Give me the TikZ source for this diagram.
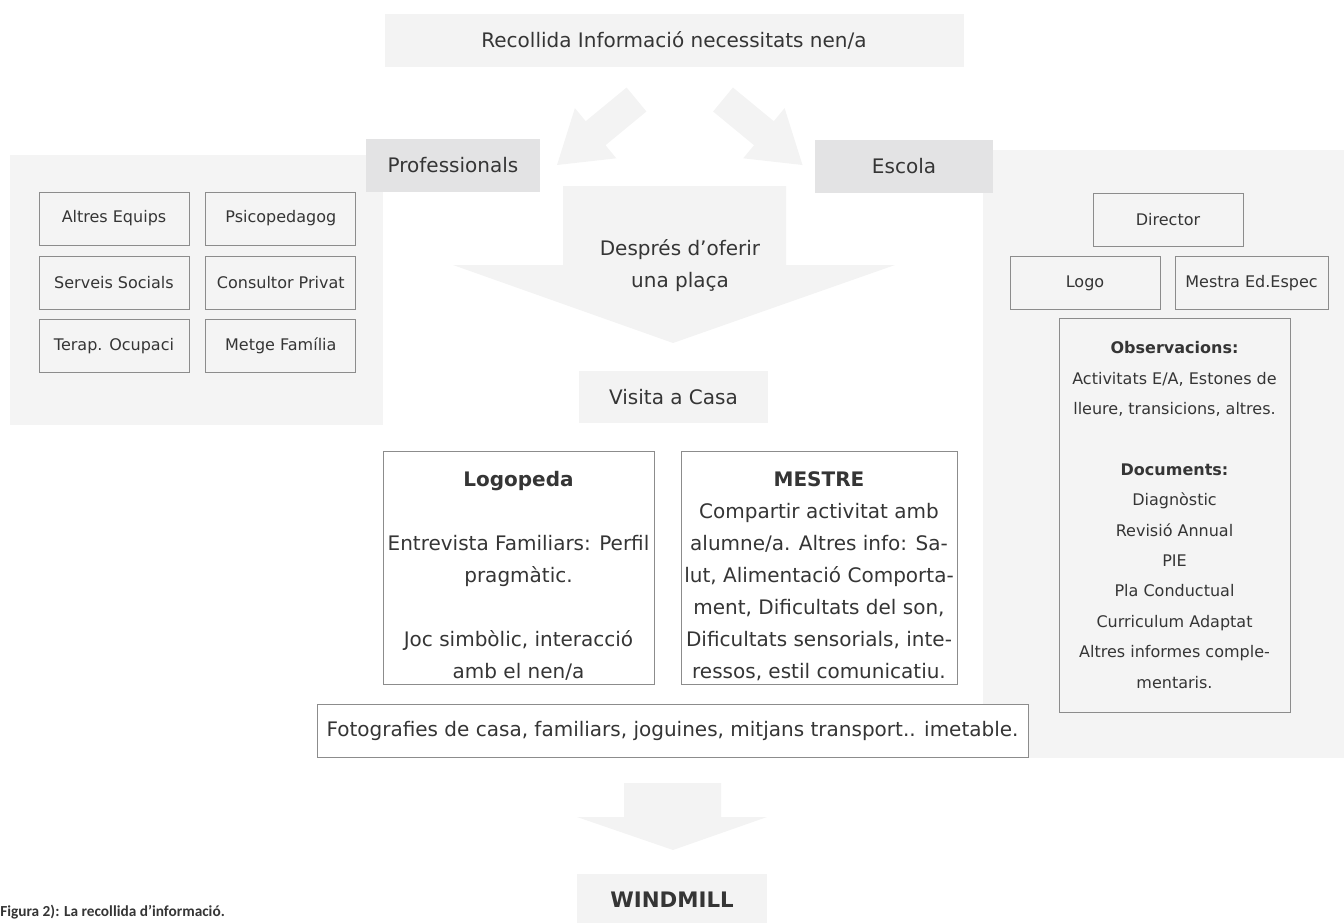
\documentclass[tikz,border=0pt]{standalone}
\usepackage{fontspec}
\setmainfont{DejaVu Sans}
\newfontfamily\capfont{Carlito}
\usetikzlibrary{positioning}

\definecolor{boxfill}{HTML}{F3F3F3}
\definecolor{panelfill}{HTML}{F4F4F4}
\definecolor{tabfill}{HTML}{E3E3E4}
\definecolor{edgegray}{HTML}{8C8C8C}
\definecolor{inkgray}{HTML}{353535}

\begin{document}
\begin{tikzpicture}[x=0.75pt, y=-0.75pt, every node/.style={text=inkgray},
    lightbox/.style={fill=boxfill, inner sep=0pt, font=\fontsize{15}{24}\selectfont},
    tabbox/.style={fill=tabfill, inner sep=0pt, minimum height=39.75pt, font=\fontsize{15}{24}\selectfont},
    panel/.style={fill=panelfill, inner sep=0pt},
    smallbox/.style={draw=edgegray, line width=0.6pt, minimum width=112.5pt, minimum height=39.75pt, inner sep=0pt, font=\fontsize{12}{14}\selectfont},
    textbox/.style={draw=edgegray, fill=white, line width=0.6pt, inner sep=2pt, align=center, font=\fontsize{15}{24}\selectfont},
    boxtext/.style={align=center, inner sep=0pt, font=\fontsize{15}{24}\selectfont}]
    \useasboundingbox (0,0) rectangle (1344,922);

    % grey panels behind the two groups
    \node [panel, minimum width=279.75pt, minimum height=202.5pt] (profpanel) at (196.5,290) {};
    \node [panel, minimum width=270.75pt, minimum height=456pt] (escpanel) at (1163.5,454) {};

    \node [lightbox, minimum width=434.25pt, minimum height=39.75pt] (info) at (674,40.5) {Recollida Informació necessitats nen/a};
    \node [tabbox, minimum width=130.5pt] (prof) at (453,165.5) {Professionals};
    \node [tabbox, minimum width=133.5pt] (escola) at (904,166.5) {Escola};

    % block arrows
    \fill [boxfill] (626.6,87.5) -- (646.4,111.5) -- (605.5,145.2) -- (616.3,158.3) -- (557,165) -- (574.9,108.1) -- (585.7,121.2) -- cycle;
    \fill [boxfill] (732.9,87.5) -- (713.1,111.5) -- (754,145.2) -- (743.2,158.3) -- (802.5,165) -- (784.6,108.1) -- (773.8,121.2) -- cycle;
    \fill [boxfill] (563,186) -- (786,186) -- (786,265) -- (895,265) -- (673,343) -- (453,265) -- (563,265) -- cycle;
    \node [align=center, font=\fontsize{15}{24}\selectfont] (oferir) at (680,266) {Després d’oferir\\una plaça};

    % professionals
    \node [smallbox] (altres) at (114,218.5) {Altres Equips};
    \node [smallbox, right=12pt of altres] (psico) {Psicopedagog};
    \node [smallbox, below=8pt of altres] (serveis) {Serveis Socials};
    \node [smallbox, right=12pt of serveis] (consultor) {Consultor Privat};
    \node [smallbox, below=7pt of serveis] (terap) {Terap. Ocupaci};
    \node [smallbox, right=12pt of terap] (metge) {Metge Família};

    % escola
    \node [smallbox] (director) at (1168,219.5) {Director};
    \node [smallbox] (logo) at (1085,283) {Logo};
    \node [smallbox, minimum width=114.75pt] (mestra) at (1251.5,283) {Mestra Ed.Espec};
    \node [smallbox, align=center, minimum width=173.25pt, minimum height=295.5pt, font=\fontsize{12}{22.8}\selectfont] (observ) at (1174.5,515)
        {\textbf{Observacions:}\\ Activitats E/A, Estones de\\ lleure, transicions, altres.\\[22.8pt] \textbf{Documents:}\\ Diagnòstic\\ Revisió Annual\\ PIE\\ Pla Conductual\\ Curriculum Adaptat\\ Altres informes comple-\\ mentaris.};

    % home visit
    \node [lightbox, minimum width=141.75pt, minimum height=39pt] (visita) at (673.5,397) {Visita a Casa};
    \node [textbox, minimum width=203.25pt, minimum height=174.75pt] (logopeda) at (518.5,567.5) {};
    \node [boxtext] (logopedatext) at ([yshift=-6.5pt]logopeda.center)
        {\textbf{Logopeda}\\[24pt] Entrevista Familiars: Perfil\\ pragmàtic.\\[24pt] Joc simbòlic, interacció\\ amb el nen/a};
    \node [textbox, minimum width=207pt, minimum height=174.75pt] (mestre) at (819,567.5) {};
    \node [boxtext] (mestretext) at ([yshift=-6.5pt]mestre.center)
        {\textbf{MESTRE}\\ Compartir activitat amb\\ alumne/a. Altres info: Sa-\\ lut, Alimentació Comporta-\\ ment, Dificultats del son,\\ Dificultats sensorials, inte-\\ ressos, estil comunicatiu.};
    \node [textbox, minimum width=533.25pt, minimum height=39.75pt] (foto) at (672.5,730.5) {Fotografies de casa, familiars, joguines, mitjans transport.. imetable.};

    \fill [boxfill] (624,783) -- (721,783) -- (721,817) -- (767,817) -- (673,850) -- (577,817) -- (624,817) -- cycle;
    \node [lightbox, minimum width=142.5pt, minimum height=39pt, font=\bfseries\fontsize{16}{20}\selectfont] (windmill) at (672,900) {WINDMILL};

    \node [anchor=west, inner sep=0pt, font=\capfont\bfseries\fontsize{11.5}{14}\selectfont] (caption) at (0,912) {Figura 2): La recollida d’informació.};
\end{tikzpicture}
\end{document}
